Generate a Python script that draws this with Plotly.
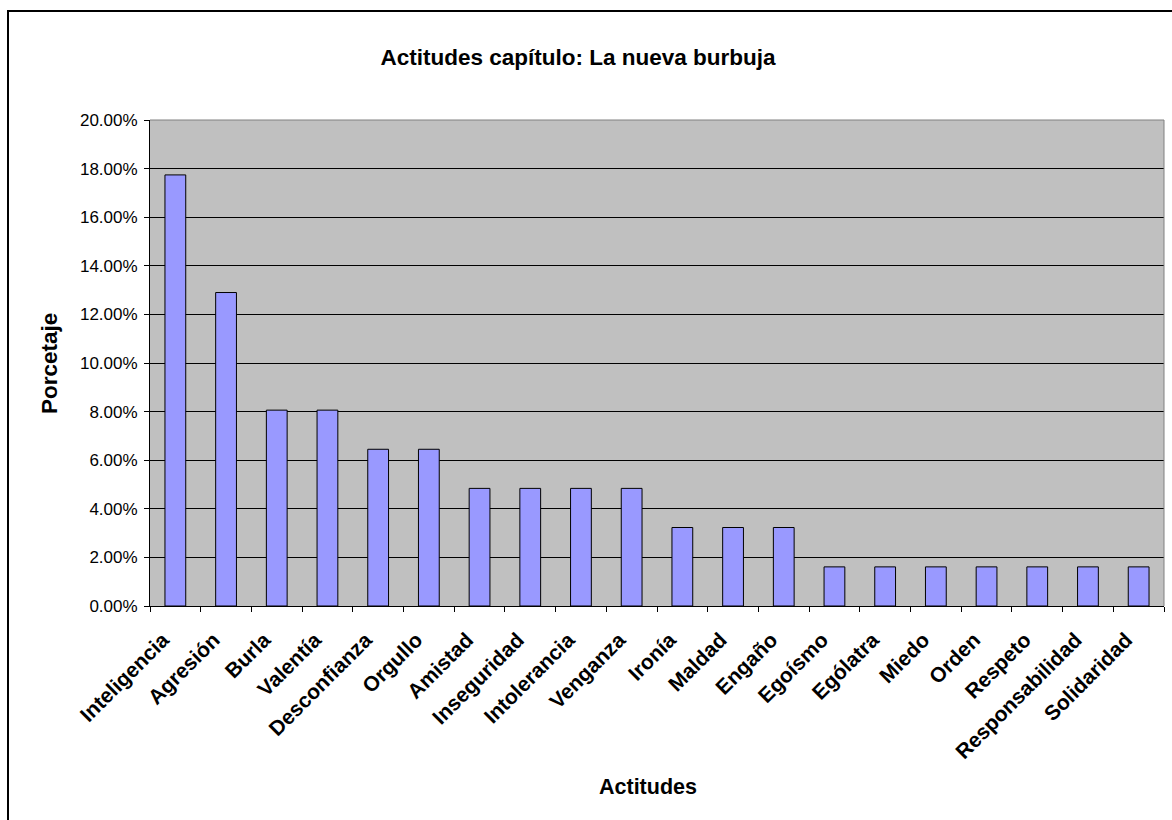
import plotly.graph_objects as go

# Attitude categories and their share of occurrences in the chapter
actitudes = [
    "Inteligencia", "Agresión", "Burla", "Valentía", "Desconfianza", "Orgullo",
    "Amistad", "Inseguridad", "Intolerancia", "Venganza", "Ironía", "Maldad",
    "Engaño", "Egoísmo", "Ególatra", "Miedo", "Orden", "Respeto",
    "Responsabilidad", "Solidaridad",
]
porcentajes = [
    0.1774, 0.1290, 0.0806, 0.0806, 0.0645, 0.0645,
    0.0484, 0.0484, 0.0484, 0.0484, 0.0323, 0.0323,
    0.0323, 0.0161, 0.0161, 0.0161, 0.0161, 0.0161,
    0.0161, 0.0161,
]
y_ticks = [0.0, 0.02, 0.04, 0.06, 0.08, 0.10, 0.12, 0.14, 0.16, 0.18, 0.20]

W, H = 1172, 820
L, R, T, B = 150, 8, 120, 214
pw, ph = W - L - R, H - T - B


def px_x(x):
    return (x - L) / pw


def px_y(y):
    return (H - B - y) / ph


FONT = "Liberation Sans, Arial, sans-serif"

fig = go.Figure(
    go.Bar(
        x=actitudes,
        y=porcentajes,
        marker=dict(color="#9999FF", line=dict(color="black", width=1)),
        hoverinfo="x+y",
    )
)

fig.update_layout(
    width=W,
    height=H,
    margin=dict(l=L, r=R, t=T, b=B),
    paper_bgcolor="white",
    plot_bgcolor="#C0C0C0",
    bargap=0.59,
    showlegend=False,
    font=dict(family=FONT, color="black"),
    title=dict(
        text="<b>Actitudes capítulo: La nueva burbuja</b>",
        x=578 / W,
        xanchor="center",
        y=1 - 57 / H,
        yanchor="middle",
        font=dict(size=22.5, family=FONT, color="black"),
    ),
    xaxis=dict(
        type="category",
        tickangle=-45,
        tickfont=dict(size=21, family=FONT, color="black"),
        ticks="outside",
        tickson="boundaries",
        ticklen=5,
        tickcolor="black",
        ticklabelstandoff=0,
        showline=True,
        linecolor="black",
        linewidth=1,
        showgrid=False,
        range=[-0.5, len(actitudes) - 0.5],
        tickprefix="<b>",
        ticksuffix="</b>\u00a0\u00a0\u00a0",
    ),
    yaxis=dict(
        range=[0, 0.20],
        tickvals=y_ticks,
        tickformat=".2%",
        tickfont=dict(size=17, family=FONT, color="black"),
        ticks="outside",
        ticklen=5,
        tickcolor="black",
        ticklabelstandoff=3,
        showline=True,
        linecolor="black",
        linewidth=1,
        showgrid=True,
        gridcolor="black",
        gridwidth=1,
        zeroline=False,
    ),
    shapes=[
        # right and top edges of the plot area
        dict(type="line", xref="paper", yref="paper", x0=0, x1=1, y0=1, y1=1,
             line=dict(color="#808080", width=1)),
        dict(type="line", xref="paper", yref="paper", x0=1, x1=1, y0=0, y1=1,
             line=dict(color="#808080", width=1)),
        # chart frame
        dict(type="rect", xref="paper", yref="paper",
             x0=px_x(8), x1=px_x(W + 20), y0=px_y(H + 20), y1=px_y(11),
             line=dict(color="black", width=2), layer="below"),
    ],
    annotations=[
        dict(text="<b>Actitudes</b>", xref="paper", yref="paper",
             x=px_x(648), y=px_y(787), xanchor="center", yanchor="middle",
             showarrow=False, font=dict(size=21.5, family=FONT, color="black")),
        dict(text="<b>Porcetaje</b>", xref="paper", yref="paper",
             x=px_x(49), y=px_y(364), xanchor="center", yanchor="middle",
             textangle=-90, showarrow=False,
             font=dict(size=22.5, family=FONT, color="black")),
    ],
)

fig.write_html("out.html")
